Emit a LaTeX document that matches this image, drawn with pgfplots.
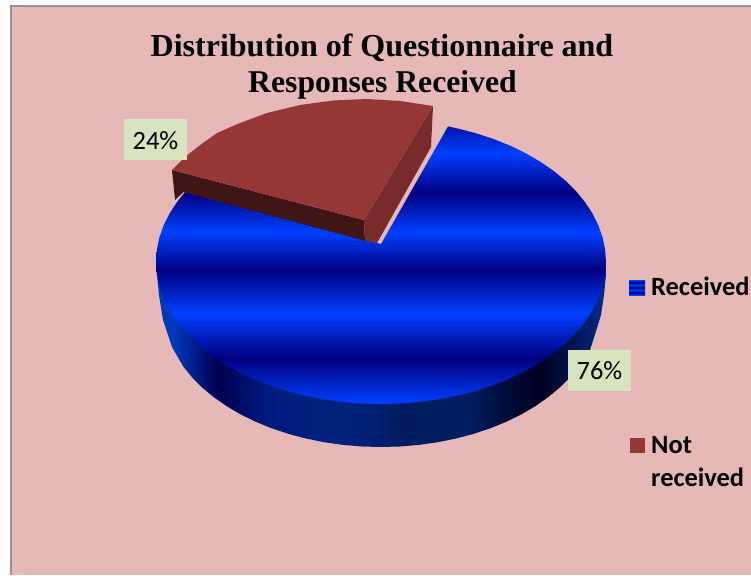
\documentclass[border=0pt]{standalone}
\usepackage{pgfplots}
\pgfplotsset{compat=1.18}
\usepackage{fontspec}
\setmainfont{Liberation Serif}
\newfontfamily\carlito{Carlito}
\definecolor{bgpink}{HTML}{E6B8B7}
\definecolor{slicered}{HTML}{953735}
\definecolor{wallright}{HTML}{772B2A}
\definecolor{walldark}{HTML}{3F1615}
\definecolor{labelgreen}{HTML}{D7E4BD}
\pgfdeclareverticalshading{blueTop}{100bp}{
 rgb(0bp)=(0,.25,1);
 rgb(25bp)=(0,.25,1);
 rgb(33.29bp)=(0,0,.5);
 rgb(41.39bp)=(0,.25,1);
 rgb(49.14bp)=(0,0,.5);
 rgb(55.98bp)=(0,.25,1);
 rgb(63bp)=(0,0,.5);
 rgb(70.2bp)=(0,.25,1);
 rgb(75bp)=(0,.082,.667);
 rgb(100bp)=(0,.082,.667)}
\pgfdeclarehorizontalshading{blueWall}{100bp}{
 rgb(0bp)=(0,.22,.69);
 rgb(25bp)=(0,.22,.69);
 rgb(26.9bp)=(0,.22,.753);
 rgb(31.8bp)=(0,0,.314);
 rgb(37.3bp)=(0,.102,.502);
 rgb(44.7bp)=(0,.139,.478);
 rgb(48.4bp)=(0,.125,.46);
 rgb(52.1bp)=(0,.11,.376);
 rgb(59.6bp)=(0,.118,.376);
 rgb(63.2bp)=(0,.059,.251);
 rgb(67.7bp)=(0,0,.125);
 rgb(70.2bp)=(0,.063,.251);
 rgb(73.2bp)=(0,.125,.439);
 rgb(75bp)=(0,.188,.565);
 rgb(100bp)=(0,.188,.565)}
\pgfdeclareverticalshading{blueKey}{100bp}{
 rgb(0bp)=(0,.25,1);
 rgb(25bp)=(0,.25,1);
 rgb(33bp)=(0,0,.5);
 rgb(42bp)=(0,.25,1);
 rgb(50bp)=(0,0,.5);
 rgb(58bp)=(0,.25,1);
 rgb(67bp)=(0,0,.5);
 rgb(75bp)=(0,.25,1);
 rgb(100bp)=(0,.25,1)}
\begin{document}
\begin{tikzpicture}
\begin{axis}[
  scale only axis, width=751pt, height=575pt,
  xmin=0, xmax=751, ymin=0, ymax=575, y dir=reverse,
  axis lines=none, clip=true, no markers]
% page and chart area
\addplot[fill=white, draw=none, forget plot] coordinates {(0,0)(751,0)(751,575)(0,575)} -- cycle;
\addplot[fill=bgpink, draw=none, forget plot] coordinates {(11,6)(751,6)(751,575)(11,575)} -- cycle;
\addplot[color=black!42, line width=2pt, forget plot] coordinates {(11,575)(11,6)(751,6)};
% blue slice, side wall (76%)
\addplot[draw=none, shade, shading=blueWall, forget plot] coordinates {
(156,262)(157,275)(159,295)(163,320)(172,347)(183.4,366.7)(192.2,377.5)(202.4,387.7)(214,397.3)(226.9,406.3)(240.9,414.5)(256,421.9)(272,428.4)(288.9,434)(306.4,438.6)(324.6,442.3)(343.1,444.9)(362,446.5)(381,447)
(400,446.5)(418.9,444.9)(437.4,442.3)(455.6,438.6)(473.1,434)(490,428.4)(506,421.9)(521.1,414.5)(535.1,406.3)(548,397.3)(559.6,387.7)(569.8,377.5)(578.6,366.7)(590,350)(595.7,332.1)(601,315)(604,295)(606,275)(606,262)
} -- cycle;
% blue slice, top face (76%)
\addplot[draw=none, shade, shading=blueTop, forget plot] coordinates {
(448,126.4)(458,128.6)(476.1,133.3)(493.5,139)(510.1,145.7)(525.6,153.2)(540.1,161.6)(553.4,170.7)(565.3,180.5)(575.9,191)(584.9,202)(592.4,213.4)(598.3,225.2)(602.6,237.3)(605.1,249.6)(606,262)(605.1,274.4)(602.6,286.7)(598.3,298.8)(592.4,310.6)(584.9,322)(575.9,333)(565.3,343.5)(553.4,353.3)(540.1,362.4)(525.6,370.8)(510.1,378.3)(493.5,385)(476.1,390.7)(458,395.4)(439.2,399.2)(420.1,401.8)(400.6,403.5)(381,404)(361.4,403.5)(341.9,401.8)(322.8,399.2)(304,395.4)(285.9,390.7)(268.5,385)(251.9,378.3)(236.4,370.8)(221.9,362.4)(208.6,353.3)(196.7,343.5)(186.1,333)(177.1,322)(169.6,310.6)(163.7,298.8)(159.4,286.7)(156.9,274.4)(156,262)(156.9,249.6)(159.4,237.3)(163.7,225.2)(169.6,213.4)(177.1,202)(185,192)(381,244)
} -- cycle;
% red slice (24%)
\addplot[fill=walldark, draw=none, forget plot] coordinates {(172,170)(364,220)(365,240.8)(183.6,192)(175,200)} -- cycle;
\addplot[fill=wallright, draw=none, forget plot] coordinates {(433,106)(431,147)(377,243)(365,240.8)(364,220)} -- cycle;
\addplot[fill=slicered, draw=none, forget plot] coordinates {(172,170)(180,162)(190,153)(203,143)(217,133)(240,123)(267,113)(300,105)(333,100.5)(367,99)(400,101)(433,106)(364,220)} -- cycle;
% data label boxes
\addplot[fill=labelgreen, draw=none, forget plot] coordinates {(124,119)(187,119)(187,160)(124,160)} -- cycle;
\addplot[fill=labelgreen, draw=none, forget plot] coordinates {(568,350)(631,350)(631,391)(568,391)} -- cycle;
% legend keys
\addplot[draw=none, shade, shading=blueKey, forget plot] coordinates {(629,280)(645,280)(645,295)(629,295)} -- cycle;
\addplot[fill=slicered, draw=none, forget plot] coordinates {(630,438)(645,438)(645,453)(630,453)} -- cycle;
% texts
\node[anchor=base, font=\bfseries\fontsize{32}{32}\selectfont, inner sep=0pt] at (axis cs:382,57) {Distribution of Questionnaire and};
\node[anchor=base, font=\bfseries\fontsize{31.7}{32}\selectfont, inner sep=0pt] at (axis cs:382.5,93) {Responses Received};
\node[anchor=center, font=\carlito\fontsize{26.4}{26}\selectfont, inner sep=0pt] at (axis cs:155.5,140.5) {24\%};
\node[anchor=center, font=\carlito\fontsize{26.4}{26}\selectfont, inner sep=0pt] at (axis cs:599.5,370.5) {76\%};
\node[anchor=base west, font=\carlito\bfseries\fontsize{26.4}{26}\selectfont, inner sep=0pt] at (axis cs:651,295) {Received};
\node[anchor=base west, font=\carlito\bfseries\fontsize{26.4}{26}\selectfont, inner sep=0pt] at (axis cs:651,453) {Not};
\node[anchor=base west, font=\carlito\bfseries\fontsize{26.4}{26}\selectfont, inner sep=0pt] at (axis cs:651,486) {received};
\end{axis}
\end{tikzpicture}
\end{document}
